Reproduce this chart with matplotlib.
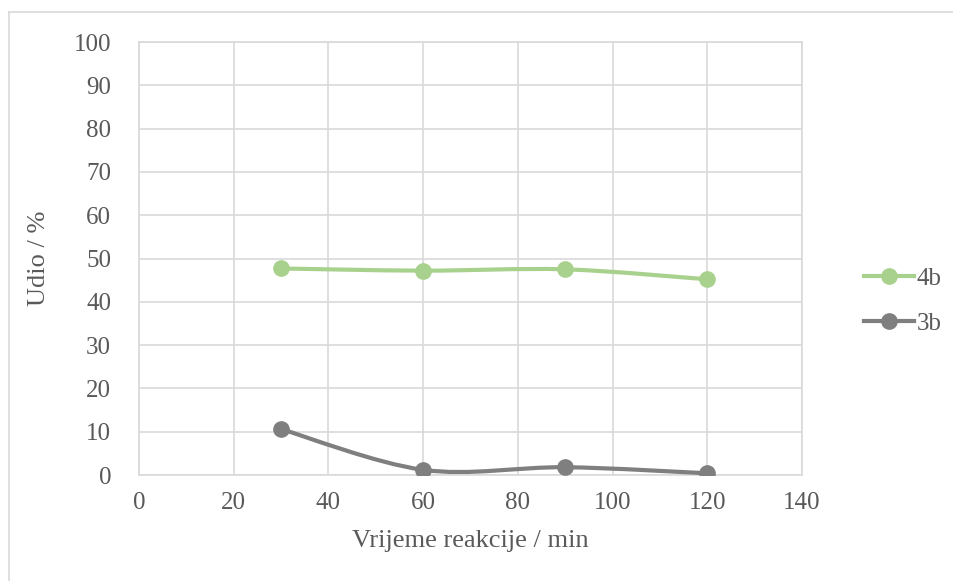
import numpy as np
import matplotlib.pyplot as plt
from matplotlib.path import Path
from matplotlib.patches import PathPatch
from matplotlib.lines import Line2D

# data
time_min = [30, 60, 90, 120]
udio_4b = [47.7, 47.2, 47.5, 45.2]
udio_3b = [10.6, 1.2, 1.8, 0.4]

green = '#A9D18E'
grey = '#7F7F7F'
txt = '#595959'

plt.rcParams['font.family'] = ['Liberation Serif', 'DejaVu Serif']


def smooth_path(x, y):
    # Excel-like smoothed line as cubic bezier segments (catmull-rom control points)
    x = np.asarray(x, float)
    y = np.asarray(y, float)
    px = np.concatenate([[x[0]], x, [x[-1]]])
    py = np.concatenate([[y[0]], y, [y[-1]]])
    verts = [(x[0], y[0])]
    codes = [Path.MOVETO]
    for i in range(1, len(x)):
        c1 = (px[i] + (px[i + 1] - px[i - 1]) / 6, py[i] + (py[i + 1] - py[i - 1]) / 6)
        c2 = (px[i + 1] - (px[i + 2] - px[i]) / 6, py[i + 1] - (py[i + 2] - py[i]) / 6)
        verts += [c1, c2, (x[i], y[i])]
        codes += [Path.CURVE4] * 3
    return Path(verts, codes)


fig = plt.figure(figsize=(9.54, 5.81), dpi=100)
ax = fig.add_axes([0.1457, 0.1824, 0.695, 0.7453])

for yv, col in [(udio_4b, green), (udio_3b, grey)]:
    ax.add_patch(PathPatch(smooth_path(time_min, yv), facecolor='none',
                           edgecolor=col, lw=3, capstyle='round', zorder=3))
    ax.plot(time_min, yv, linestyle='none', marker='o', ms=11,
            color=col, zorder=4)

ax.set_xlim(0, 140)
ax.set_ylim(0, 100)
ax.set_xticks(np.arange(0, 141, 20))
ax.set_yticks(np.arange(0, 101, 10))
ax.grid(True, color='#D9D9D9', lw=1.2)
ax.set_axisbelow(True)
for s in ax.spines.values():
    s.set_color('#D9D9D9')
    s.set_linewidth(1.2)
ax.tick_params(length=0, labelsize=18, labelcolor=txt)
ax.tick_params(axis='y', pad=20)
ax.tick_params(axis='x', pad=12)

ax.set_xlabel('Vrijeme reakcije / min', fontsize=19, color=txt, labelpad=12)
ax.set_ylabel('Udio / %', fontsize=19, color=txt, labelpad=17)

handles = [Line2D([], [], color=green, lw=3, marker='o', ms=11),
           Line2D([], [], color=grey, lw=3, marker='o', ms=11)]
fig.legend(handles, ['4b', '3b'], loc='center left',
           bbox_to_anchor=(0.882, 0.482), frameon=False, fontsize=18,
           labelcolor=txt, handlelength=2.0, handletextpad=0.1,
           labelspacing=0.9)

# outer chart frame (top and left edges only visible)
fig.add_artist(Line2D([9 / 954, 1], [1 - 12 / 581, 1 - 12 / 581],
                      transform=fig.transFigure, color='#D9D9D9', lw=1.2))
fig.add_artist(Line2D([9 / 954, 9 / 954], [0, 1 - 12 / 581],
                      transform=fig.transFigure, color='#D9D9D9', lw=1.2))

fig.savefig('out.png', dpi=100)
